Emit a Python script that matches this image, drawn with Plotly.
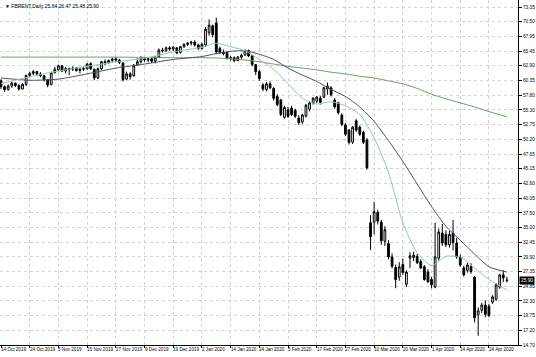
import pandas as pd
import plotly.graph_objects as go

# ---------------- data ----------------
holidays = ["2019-12-25", "2020-01-01", "2020-04-10"]
dates = [d for d in pd.bdate_range("2019-10-14", "2020-05-01") if d.strftime("%Y-%m-%d") not in holidays]

opens = [60.3, 59.3, 58.8, 59.4, 59.9, 59.5, 58.9, 59.7, 61.2, 61.6, 61.9, 61.5, 61.2, 60.5,
         59.7, 61.7, 62.2, 62.9, 62.0, 62.4, 62.3, 62.5, 62.1, 62.3, 62.4, 63.3, 62.3, 60.8, 62.4,
         63.6, 63.4, 63.8, 64.1, 63.9, 63.4, 60.6, 61.5, 61.2, 63.0, 63.6, 64.2, 63.9, 64.1, 63.7,
         64.4, 65.6, 65.5, 66.0, 65.8, 66.0, 65.2, 66.2, 66.6, 66.8, 67.0, 66.5, 65.9, 66.5, 68.6,
         69.8, 70.3, 65.9, 65.2, 65.2, 64.3, 64.3, 63.8, 64.4, 64.8, 65.5, 64.6, 63.1, 61.9, 59.6,
         58.8, 59.8, 59.0, 57.6, 57.0, 54.0, 55.3, 55.6, 55.2, 53.9, 53.2, 54.2, 55.4, 56.5, 56.8,
         57.3, 57.5, 58.9, 59.1, 57.0, 56.5, 54.4, 52.7, 51.8, 49.7, 53.4, 52.3, 51.4, 50.1, 35.8,
         35.9, 37.6, 35.9, 32.6, 32.2, 29.9, 28.1, 26.4, 28.6, 25.2, 29.7, 29.8, 30.0, 29.1, 28.2,
         27.3, 26.0, 24.7, 29.7, 34.0, 33.8, 32.0, 34.0, 32.3, 29.9, 28.0, 27.6, 28.2, 26.4, 19.9,
         20.7, 21.6, 21.4, 22.1, 22.6, 24.7, 26.8, 25.84]
highs = [60.6, 59.5, 59.7, 60.2, 60.0, 59.7, 59.9, 61.4, 61.9, 62.2, 62.0, 61.8, 61.3, 60.6,
         61.9, 62.7, 63.1, 63.0, 62.7, 62.6, 62.8, 62.7, 62.5, 62.8, 63.4, 63.5, 62.4, 62.6, 63.7,
         64.0, 64.0, 64.3, 64.4, 64.1, 63.5, 61.9, 61.8, 63.2, 64.2, 64.6, 64.4, 64.3, 64.3, 64.6,
         65.9, 66.0, 66.2, 66.3, 66.3, 66.1, 66.3, 66.8, 67.0, 67.2, 67.3, 66.7, 66.9, 69.6, 70.9,
         70.0, 71.2, 66.2, 65.7, 65.4, 64.6, 64.5, 64.6, 65.0, 65.7, 65.7, 64.8, 63.2, 62.2, 59.9,
         60.1, 60.2, 59.2, 58.0, 57.2, 56.0, 55.8, 56.0, 55.5, 54.4, 54.6, 56.3, 56.7, 57.5, 57.7,
         57.7, 59.3, 60.0, 59.4, 57.3, 56.7, 54.7, 53.0, 52.0, 52.5, 53.7, 52.6, 51.7, 50.4, 37.1,
         39.4, 38.0, 36.3, 35.2, 32.8, 30.5, 28.6, 29.0, 29.6, 27.6, 30.7, 30.8, 30.4, 29.5, 28.5,
         27.8, 26.4, 35.8, 34.8, 35.6, 34.5, 34.4, 36.3, 33.2, 30.3, 28.4, 28.9, 28.8, 26.6, 21.2,
         22.0, 22.4, 21.8, 23.3, 25.4, 27.0, 27.6, 26.47]
lows = [58.9, 58.4, 58.6, 59.1, 59.2, 58.6, 58.8, 59.4, 60.9, 61.3, 61.2, 60.9, 60.2, 59.2,
        59.5, 61.6, 62.0, 61.8, 61.6, 61.3, 62.0, 61.9, 61.6, 62.0, 62.2, 62.2, 60.4, 60.6, 62.2,
        63.0, 63.3, 63.5, 63.6, 63.2, 60.2, 60.5, 60.5, 61.0, 62.9, 63.3, 63.6, 63.5, 63.4, 63.3,
        64.2, 65.2, 65.3, 65.5, 65.4, 64.9, 65.0, 66.0, 66.3, 66.4, 66.2, 65.6, 65.7, 66.2, 68.1,
        67.8, 64.9, 64.9, 64.7, 64.0, 63.8, 63.5, 63.7, 64.1, 64.6, 64.4, 62.8, 61.3, 60.3, 58.5,
        58.5, 58.9, 56.9, 55.9, 54.2, 53.8, 53.9, 54.2, 53.9, 52.7, 52.9, 54.0, 55.0, 56.2, 56.5,
        56.2, 57.3, 57.9, 57.6, 55.5, 54.5, 52.5, 50.8, 49.3, 49.4, 51.5, 50.8, 49.4, 45.0, 31.1,
        33.8, 35.5, 32.0, 31.8, 29.5, 27.9, 24.5, 25.8, 26.8, 24.7, 28.0, 29.2, 28.7, 27.8, 25.8,
        25.4, 24.5, 24.5, 29.3, 31.8, 31.6, 31.5, 31.0, 29.6, 28.2, 26.5, 27.2, 27.0, 18.6, 16.3,
        20.2, 19.5, 19.5, 21.8, 22.3, 24.4, 25.6, 25.48]
closes = [59.3, 58.8, 59.4, 59.9, 59.5, 58.9, 59.7, 61.2, 61.6, 61.9, 61.5, 61.2, 60.5, 59.6,
          61.7, 62.3, 62.9, 62.0, 62.4, 62.3, 62.5, 62.1, 62.3, 62.4, 63.2, 62.4, 60.8, 62.4, 63.6,
          63.4, 63.8, 64.1, 63.9, 63.5, 60.5, 61.5, 61.0, 63.0, 63.6, 64.2, 63.9, 64.1, 63.7, 64.4,
          65.6, 65.5, 66.0, 65.8, 66.1, 65.1, 66.2, 66.6, 66.8, 67.0, 66.5, 65.9, 66.6, 69.2, 69.9,
          68.3, 65.3, 65.2, 65.0, 64.3, 64.2, 63.8, 64.4, 64.7, 65.5, 64.6, 63.1, 61.9, 60.7, 58.9,
          59.8, 59.1, 57.3, 56.2, 54.5, 55.7, 54.2, 54.5, 54.2, 53.1, 54.4, 56.1, 56.5, 57.3, 57.5,
          56.6, 59.1, 59.4, 57.9, 55.8, 54.8, 52.8, 51.1, 49.7, 52.3, 51.8, 51.1, 49.7, 45.3, 33.4,
          37.7, 36.1, 32.7, 34.6, 29.9, 28.3, 26.0, 28.2, 27.2, 27.3, 30.1, 30.2, 28.9, 28.0, 26.0,
          25.6, 25.1, 29.9, 34.2, 32.3, 32.0, 33.8, 32.4, 29.9, 28.5, 26.8, 28.5, 27.4, 19.4, 20.6,
          21.6, 20.0, 19.8, 23.0, 25.1, 26.8, 26.3, 25.90]

# moving averages (bar index -> value)
ma_idx = [0, 8, 16, 24, 32, 40, 48, 56, 60, 64, 68, 72, 76, 80, 84, 88, 92, 96, 100, 104,
          108, 112, 116, 120, 124, 128, 132, 136, 141]
ma_fast = [59.8, 61.0, 62.0, 62.8, 63.6, 64.2, 65.3, 66.1, 66.8, 66.2, 65.5, 64.0, 62.3, 59.8,
           57.3, 56.3, 56.7, 56.0, 54.5, 50.5, 44.5, 35.8, 30.6, 28.4, 30.0, 29.9, 28.0, 26.0, 24.2]
ma_slow = [60.8, 60.4, 60.6, 61.5, 62.5, 63.2, 64.0, 64.5, 65.0, 65.4, 65.5, 64.9, 64.0, 62.5,
           61.3, 60.2, 58.8, 57.6, 55.8, 53.3, 50.0, 46.4, 42.5, 38.6, 35.2, 32.8, 30.4, 28.2, 27.3]
ma_long = [64.4, 64.4, 64.4, 64.4, 64.4, 64.35, 64.3, 64.3, 64.25, 64.1, 63.9, 63.6, 63.2, 62.8,
           62.5, 62.2, 61.8, 61.5, 61.1, 60.8, 60.3, 59.8, 59.0, 58.0, 57.2, 56.5, 55.8, 55.0, 54.1]

price_ticks = [73.05, 70.50, 67.95, 65.45, 62.90, 60.35, 57.80, 55.30, 52.75, 50.20, 47.65, 45.15,
               42.60, 40.05, 37.50, 35.00, 32.45, 29.90, 27.35, 24.85, 22.30, 19.75, 17.20, 14.70]
date_tick_idx = list(range(0, 137, 8))
date_labels = ["14 Oct 2019", "24 Oct 2019", "5 Nov 2019", "15 Nov 2019", "27 Nov 2019",
               "9 Dec 2019", "19 Dec 2019", "2 Jan 2020", "14 Jan 2020", "24 Jan 2020",
               "5 Feb 2020", "17 Feb 2020", "27 Feb 2020", "10 Mar 2020", "20 Mar 2020",
               "1 Apr 2020", "14 Apr 2020", "24 Apr 2020"]
title_text = "FBRENT,Daily 25.84 26.47 25.48 25.90"
last_price = 25.90

# ---------------- figure ----------------
FONT = "Liberation Sans, Arial, sans-serif"
idx = list(range(len(dates)))
fig = go.Figure()
fig.add_trace(go.Candlestick(
    x=idx, open=opens, high=highs, low=lows, close=closes,
    text=[d.strftime("%d %b %Y") for d in dates],
    increasing=dict(line=dict(color="#000000", width=1), fillcolor="#ffffff"),
    decreasing=dict(line=dict(color="#000000", width=1), fillcolor="#000000"),
    whiskerwidth=0, showlegend=False))
for vals, col in [(ma_long, "#6b9e6b"), (ma_slow, "#4d5068"), (ma_fast, "#93c9ab")]:
    fig.add_trace(go.Scatter(x=ma_idx, y=vals, mode="lines",
                             line=dict(color=col, width=1, shape="spline", smoothing=0.6),
                             showlegend=False, hoverinfo="skip"))

for lab, i in zip(date_labels, date_tick_idx):
    fig.add_annotation(x=i, y=0, xref="x", yref="paper", text=lab, showarrow=False,
                       xanchor="left", yanchor="top", xshift=-2, yshift=0,
                       font=dict(family=FONT, size=4.6, color="#000000"))
fig.add_annotation(x=0, y=1, xref="paper", yref="paper", text="▼ " + title_text,
                   showarrow=False, xanchor="left", yanchor="top", xshift=3, yshift=-1,
                   font=dict(family=FONT, size=5, color="#000000"))
fig.add_annotation(x=1, y=last_price, xref="paper", yref="y", text=str(f"{last_price:.2f}"),
                   showarrow=False, xanchor="left", yanchor="middle", xshift=1,
                   bgcolor="#000000", borderpad=1,
                   font=dict(family=FONT, size=4.8, color="#ffffff"))

fig.update_layout(
    width=536, height=357, margin=dict(l=0, r=18, t=0, b=12),
    paper_bgcolor="#ffffff", plot_bgcolor="#ffffff",
    font=dict(family=FONT, size=5, color="#000000"),
    xaxis=dict(range=[-0.28, 144.1], rangeslider=dict(visible=False),
               tickmode="array", tickvals=date_tick_idx, showticklabels=False,
               ticks="outside", ticklen=2, tickcolor="#000000",
               showgrid=True, gridcolor="#d2d2d2", griddash="dot", gridwidth=1,
               showline=True, linecolor="#000000", linewidth=1, zeroline=False, fixedrange=True),
    yaxis=dict(range=[14.70, 74.26], side="right", tickmode="array", tickvals=price_ticks,
               ticktext=[f"{v:.2f}" for v in price_ticks],
               ticks="outside", ticklen=3, tickcolor="#000000",
               tickfont=dict(family=FONT, size=4.8, color="#000000"),
               showgrid=True, gridcolor="#d2d2d2", griddash="dot", gridwidth=1,
               showline=True, linecolor="#000000", linewidth=1, zeroline=False, fixedrange=True),
)
fig.write_html("out.html")
